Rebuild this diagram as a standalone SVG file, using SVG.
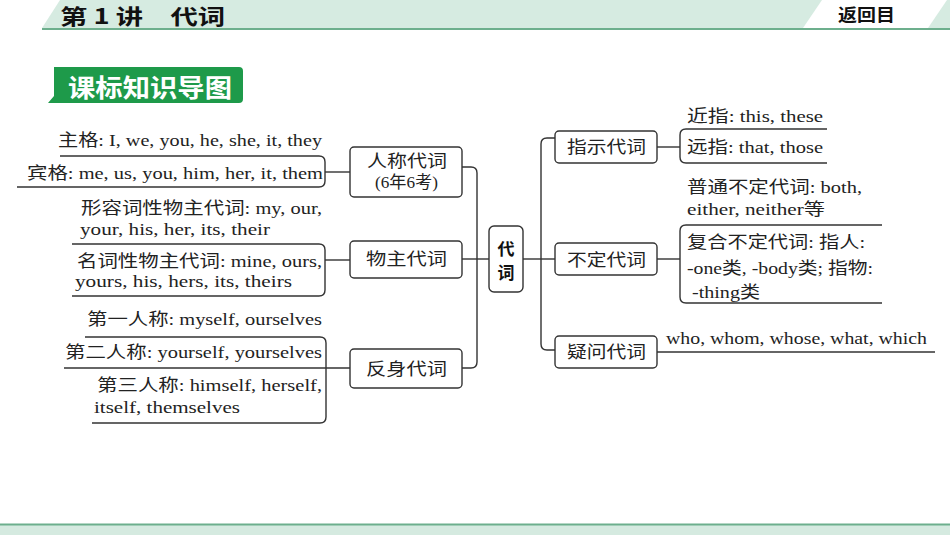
<svg xmlns="http://www.w3.org/2000/svg" width="950" height="535" viewBox="0 0 950 535">
<style>
.t{font-family:"Liberation Serif","Noto Sans CJK SC",serif;font-size:16.5px;fill:#222}
.n{font-family:"Liberation Serif","Noto Sans CJK SC",serif;font-size:17px;fill:#222}
.box{fill:#fff;stroke:#333;stroke-width:1.4}
.ln{fill:none;stroke:#333;stroke-width:1.4}
.hd{font-family:"Noto Sans CJK SC","Liberation Sans",sans-serif;font-weight:bold;fill:#111}
</style>
<rect width="950" height="535" fill="#fff"/>
<!-- header -->
<polygon points="42,28 60,0 950,0 950,28" fill="#d6ebe1"/>
<polygon points="803,28 822,0 947,0 928,28" fill="#fff"/>
<line x1="42" y1="29" x2="950" y2="29" stroke="#6daf8d" stroke-width="2"/>
<text class="hd" x="60" y="24" font-size="21" textLength="165" lengthAdjust="spacingAndGlyphs">第 1 讲　代词</text>
<text class="hd" x="838" y="21" font-size="17" textLength="57" lengthAdjust="spacingAndGlyphs">返回目</text>
<!-- badge -->
<g id="badge">
<path d="M54,67 H239 Q243,67 243,71 V99 Q243,103 239,103 H48 L54,96 Z" fill="#1e9a4a"/>
<text x="68" y="97" font-family="Noto Sans CJK SC,sans-serif" font-weight="bold" font-size="25" fill="#fff" textLength="164" lengthAdjust="spacingAndGlyphs">课标知识导图</text>
</g>
<!-- connectors -->
<g id="connectors" class="ln">
<path d="M462,167 H471 Q477,167 477,173 V362 Q477,368 471,368 H462"/>
<path d="M462,259 H489"/>
<path d="M523,259 H541"/>
<path d="M555,138 H547 Q541,138 541,144 V344 Q541,350 547,350 H555"/>
<path d="M541,259 H555"/>
<path d="M60,156 H319 Q325,156 325,162 V181 Q325,187 319,187 H17"/>
<path d="M325,172 H350"/>
<path d="M72,244 H319 Q325,244 325,250 V290 Q325,296 319,296 H72"/>
<path d="M325,260 H350"/>
<path d="M85,337 H320 Q326,337 326,343 V417 Q326,423 320,423 H92"/>
<path d="M64,368 H350"/>
<path d="M657,147 H680"/>
<path d="M827,129 H686 Q680,129 680,135 V157 Q680,163 686,163 H827"/>
<path d="M657,259 H680"/>
<path d="M882,225 H686 Q680,225 680,231 V297 Q680,303 686,303 H882"/>
<path d="M657,352 H935"/>
</g>
<!-- center -->
<g id="center">
<rect class="box" x="489" y="226" width="34" height="66" rx="5"/>
<text class="hd" x="506" y="255" font-size="17" text-anchor="middle">代</text>
<text class="hd" x="506" y="279" font-size="17" text-anchor="middle">词</text>
</g>
<g id="renchen">
<rect class="box" x="350" y="147" width="112" height="50" rx="4"/>
<text class="n" x="367" y="167" textLength="80" lengthAdjust="spacingAndGlyphs">人称代词</text>
<text class="t" x="375" y="188" font-size="14" textLength="63" lengthAdjust="spacingAndGlyphs">(6年6考)</text>
</g>
<g id="wuzhu">
<rect class="box" x="350" y="241" width="112" height="37" rx="4"/>
<text class="n" x="366" y="265" textLength="81" lengthAdjust="spacingAndGlyphs">物主代词</text>
</g>
<g id="fanshen">
<rect class="box" x="350" y="349" width="112" height="39" rx="4"/>
<text class="n" x="366" y="375" textLength="81" lengthAdjust="spacingAndGlyphs">反身代词</text>
</g>
<g id="zhishi">
<rect class="box" x="555" y="131" width="102" height="32" rx="4"/>
<text class="n" x="567" y="153" textLength="79" lengthAdjust="spacingAndGlyphs">指示代词</text>
</g>
<g id="buding">
<rect class="box" x="555" y="243" width="102" height="32" rx="4"/>
<text class="n" x="567" y="266" textLength="79" lengthAdjust="spacingAndGlyphs">不定代词</text>
</g>
<g id="yiwen">
<rect class="box" x="555" y="336" width="102" height="32" rx="4"/>
<text class="n" x="567" y="358" textLength="79" lengthAdjust="spacingAndGlyphs">疑问代词</text>
</g>
<g id="leaves">
<text class="t" x="58" y="146" textLength="264" lengthAdjust="spacingAndGlyphs">主格: I, we, you, he, she, it, they</text>
<text class="t" x="27" y="179" textLength="296" lengthAdjust="spacingAndGlyphs">宾格: me, us, you, him, her, it, them</text>
<text class="t" x="81" y="214" textLength="241" lengthAdjust="spacingAndGlyphs">形容词性物主代词: my, our,</text>
<text class="t" x="80" y="235" textLength="190" lengthAdjust="spacingAndGlyphs">your, his, her, its, their</text>
<text class="t" x="77" y="267" textLength="245" lengthAdjust="spacingAndGlyphs">名词性物主代词: mine, ours,</text>
<text class="t" x="75" y="287" textLength="217" lengthAdjust="spacingAndGlyphs">yours, his, hers, its, theirs</text>
<text class="t" x="87" y="325" textLength="235" lengthAdjust="spacingAndGlyphs">第一人称: myself, ourselves</text>
<text class="t" x="65" y="358" textLength="257" lengthAdjust="spacingAndGlyphs">第二人称: yourself, yourselves</text>
<text class="t" x="97" y="391" textLength="225" lengthAdjust="spacingAndGlyphs">第三人称: himself, herself,</text>
<text class="t" x="94" y="413" textLength="146" lengthAdjust="spacingAndGlyphs">itself, themselves</text>
<text class="t" x="687" y="122" textLength="136" lengthAdjust="spacingAndGlyphs">近指: this, these</text>
<text class="t" x="687" y="153" textLength="136" lengthAdjust="spacingAndGlyphs">远指: that, those</text>
<text class="t" x="687" y="193" textLength="175" lengthAdjust="spacingAndGlyphs">普通不定代词: both,</text>
<text class="t" x="687" y="215" textLength="138" lengthAdjust="spacingAndGlyphs">either, neither等</text>
<text class="t" x="687" y="248" textLength="178" lengthAdjust="spacingAndGlyphs">复合不定代词: 指人:</text>
<text class="t" x="687" y="274" textLength="186" lengthAdjust="spacingAndGlyphs">-one类, -body类; 指物:</text>
<text class="t" x="692" y="298" textLength="68" lengthAdjust="spacingAndGlyphs">-thing类</text>
<text class="t" x="666" y="344" textLength="261" lengthAdjust="spacingAndGlyphs">who, whom, whose, what, which</text>
</g>
<rect x="0" y="525" width="950" height="10" fill="#d5eae0"/>
<line x1="0" y1="524.5" x2="950" y2="524.5" stroke="#6daf8d" stroke-width="2"/>
</svg>
